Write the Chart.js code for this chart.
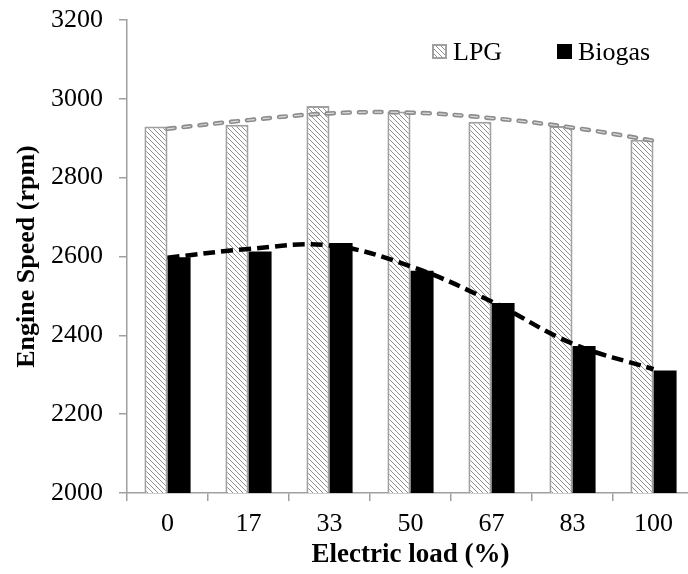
<!DOCTYPE html>
<html>
<head>
<meta charset="utf-8">
<script src="https://cdn.jsdelivr.net/npm/chart.js@4/dist/chart.umd.min.js"></script>
<style>
  html, body { margin: 0; padding: 0; background: #fff; overflow: hidden; }
  canvas { display: block; }
</style>
</head>
<body>
<canvas id="myChart" width="700" height="574"></canvas>
<script>
// data
const loads = ["0", "17", "33", "50", "67", "83", "100"];
const lpgSpeed = [2930, 2934, 2982, 2968, 2942, 2931, 2896];
const biogasSpeed = [2598, 2613, 2634, 2564, 2482, 2373, 2311];
const lpgTrend = [2924, 2946, 2963, 2965, 2951, 2927, 2894];
const biogasTrend = [2597, 2619, 2628, 2575, 2486, 2379, 2314];
const yTicks = [2000, 2200, 2400, 2600, 2800, 3000, 3200];

document.addEventListener('DOMContentLoaded', () => {
    // diagonal hatch for the LPG bars
    const hatch = document.createElement('canvas');
    hatch.width = 5;
    hatch.height = 5;
    const hctx = hatch.getContext('2d');
    hctx.fillStyle = '#fff';
    hctx.fillRect(0, 0, 5, 5);
    hctx.strokeStyle = '#8f8f8f';
    hctx.lineWidth = 1;
    hctx.beginPath();
    hctx.moveTo(0, 0); hctx.lineTo(5, 5);
    hctx.moveTo(-1, 4); hctx.lineTo(1, 6);
    hctx.moveTo(4, -1); hctx.lineTo(6, 1);
    hctx.stroke();
    const ctx = document.getElementById('myChart').getContext('2d');
    const hatchFill = ctx.createPattern(hatch, 'repeat');

    const serif = 'Liberation Serif';

    const legendInside = {
        id: 'legendInside',
        afterDatasetsDraw(chart) {
            const c = chart.ctx;
            const top = chart.chartArea.top;
            const items = [
                { ds: chart.data.datasets[0], x: 432 },
                { ds: chart.data.datasets[1], x: 557 }
            ];
            c.save();
            c.font = '26px "' + serif + '"';
            c.textBaseline = 'alphabetic';
            items.forEach(it => {
                c.fillStyle = it.ds.backgroundColor;
                c.fillRect(it.x, top + 24, 15, 15);
                if (it.ds.borderWidth) {
                    c.strokeStyle = it.ds.borderColor;
                    c.lineWidth = 2;
                    c.strokeRect(it.x + 1, top + 25, 13, 13);
                }
                c.fillStyle = '#000';
                c.fillText(it.ds.label, it.x + 21, top + 39.5);
            });
            c.restore();
        }
    };

    new Chart(ctx, {
        type: 'bar',
        data: {
            labels: loads,
            datasets: [
                {
                    label: 'LPG',
                    data: lpgSpeed,
                    backgroundColor: hatchFill,
                    borderColor: '#a0a0a0',
                    borderWidth: 2,
                    categoryPercentage: 0.57,
                    barPercentage: 1.0,
                    order: 4
                },
                {
                    label: 'Biogas',
                    data: biogasSpeed,
                    backgroundColor: '#000',
                    borderWidth: 0,
                    categoryPercentage: 0.57,
                    barPercentage: 1.0,
                    order: 4
                },
                {
                    type: 'line',
                    label: 'LPG trend',
                    data: lpgTrend,
                    borderColor: '#8c8c8c',
                    borderWidth: 4.5,
                    borderDash: [7, 9],
                    borderCapStyle: 'round',
                    tension: 0.4,
                    pointRadius: 0,
                    fill: false,
                    order: 3
                },
                {
                    type: 'line',
                    label: 'LPG trend inner',
                    data: lpgTrend,
                    borderColor: '#dcdcdc',
                    borderWidth: 1.2,
                    borderDash: [7, 9],
                    borderCapStyle: 'round',
                    tension: 0.4,
                    pointRadius: 0,
                    fill: false,
                    order: 2
                },
                {
                    type: 'line',
                    label: 'Biogas trend',
                    data: biogasTrend,
                    borderColor: '#000',
                    borderWidth: 4.5,
                    borderDash: [12, 6],
                    tension: 0.4,
                    pointRadius: 0,
                    fill: false,
                    order: 1
                }
            ]
        },
        options: {
            responsive: false,
            animation: false,
            layout: { padding: { top: 20, left: 0, right: 6, bottom: 0 } },
            scales: {
                x: {
                    offset: true,
                    grid: {
                        offset: true,
                        drawOnChartArea: false,
                        drawTicks: true,
                        tickLength: 8,
                        color: '#a0a0a0',
                        lineWidth: 1.5
                    },
                    border: { color: '#a0a0a0', width: 1.5 },
                    ticks: { padding: 8, color: '#000', font: { family: serif, size: 26 } },
                    title: {
                        display: true,
                        text: 'Electric load (%)',
                        color: '#000',
                        font: { family: serif, size: 27, weight: 'bold' },
                        padding: { top: 0, bottom: 3 }
                    },
                    afterFit: (scale) => {
                        scale.height = 81;
                        scale.paddingLeft = 0;
                        scale.paddingRight = 0;
                    }
                },
                y: {
                    min: 2000,
                    max: 3200,
                    afterBuildTicks: (scale) => { scale.ticks = yTicks.map(v => ({ value: v })); },
                    grid: {
                        drawOnChartArea: false,
                        drawTicks: true,
                        tickLength: 8,
                        color: '#a0a0a0',
                        lineWidth: 1.5
                    },
                    border: { color: '#a0a0a0', width: 1.5 },
                    ticks: {
                        padding: 16,
                        color: '#000',
                        font: { family: serif, size: 26 },
                        callback: (value) => String(value)
                    },
                    title: {
                        display: true,
                        text: 'Engine Speed (rpm)',
                        color: '#000',
                        font: { family: serif, size: 26, weight: 'bold' },
                        padding: { top: 12, bottom: 0 }
                    },
                    afterFit: (scale) => {
                        scale.width = 127;
                        scale.paddingTop = 0;
                        scale.paddingBottom = 0;
                    }
                }
            },
            plugins: {
                legend: { display: false },
                tooltip: { enabled: false },
                title: { display: false }
            }
        },
        plugins: [legendInside]
    });
});
</script>
</body>
</html>
